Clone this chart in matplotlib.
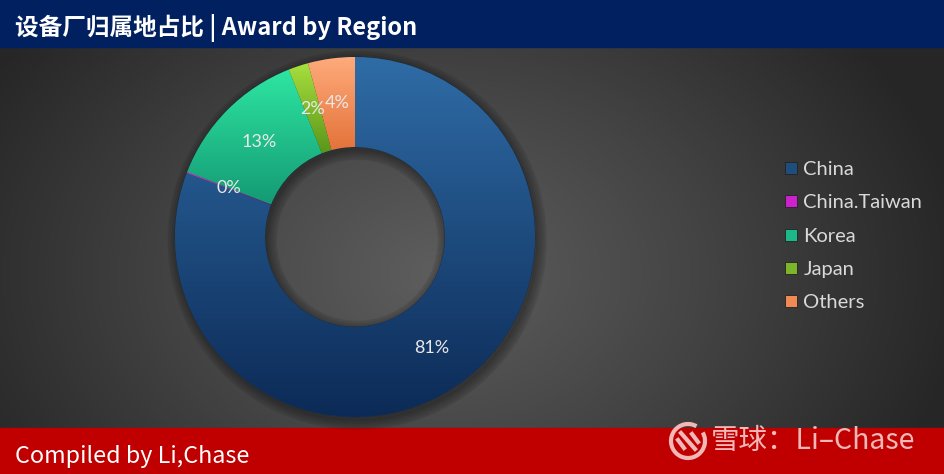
import matplotlib
matplotlib.use('Agg')
import matplotlib.pyplot as plt
import numpy as np
from matplotlib.colors import LinearSegmentedColormap
from matplotlib.lines import Line2D
from matplotlib.patches import Rectangle, Arc, Wedge

regions = ["China", "China.Taiwan", "Korea", "Japan", "Others"]
shares = [80.8, 0.1, 13.1, 1.8, 4.2]
top_colors = ["#2f6ca6", "#e040e0", "#2ee6a2", "#a8e03e", "#ffab7c"]
bottom_colors = ["#0c2a56", "#8a108a", "#149a74", "#5a961a", "#e4733a"]
legend_colors = ["#1f4e7d", "#cc22cc", "#1db88a", "#7cb52c", "#f08a55"]

title = "设备厂归属地占比 | Award by Region"
footer = "Compiled by Li,Chase"
mark = "雪球：Li–Chase"

W, H = 945, 474
fig = plt.figure(figsize=(W / 100, H / 100), dpi=100)
fig.patch.set_facecolor("#333333")

# background: radial grey gradient
bg = fig.add_axes([0, 0, 1, 1])
bg.set_xlim(0, W)
bg.set_ylim(0, H)
bg.axis('off')
yy, xx = np.mgrid[0:H, 0:W]
d = np.sqrt(((xx - 440) / 520.0) ** 2 + ((yy - 200) / 380.0) ** 2)
d = np.clip(d, 0, 1)
grey = LinearSegmentedColormap.from_list("g", ["#5e5e5e", "#444444", "#272727"])
bg.imshow(d, cmap=grey, extent=(0, W, 0, H), origin='lower', aspect='auto', zorder=0)

# header and footer bars
bg.add_patch(Rectangle((0, H - 47), W, 47, color="#012060", zorder=1))
bg.add_patch(Rectangle((0, 0), W, 46, color="#c00000", zorder=1))
bg.text(15, H - 28, title, color="white", fontsize=17, fontweight='bold',
        family=['Noto Sans CJK SC', 'DejaVu Sans'], va='center', ha='left', zorder=2)
bg.text(15, 17, footer, color="white", fontsize=16.8,
        family=['Noto Sans CJK SC', 'DejaVu Sans'], va='center', ha='left', zorder=2)

# watermark
wm = "#f2b8b8"
bg.text(711, 33, mark, color=wm, fontsize=20.5,
        family=['Noto Sans CJK SC', 'DejaVu Sans'], va='center', ha='left', zorder=3)
bg.add_patch(Arc((688, 33), 34, 34, theta1=60, theta2=390, color=wm, lw=3, zorder=3))
bg.plot([681, 695], [41, 25], color=wm, lw=3, zorder=3)
bg.plot([678, 684], [34, 26], color=wm, lw=3, zorder=3)
bg.plot([692, 698], [40, 32], color=wm, lw=3, zorder=3)

# donut: center (355, 237) px, radius 180 px
lim = 1.08
size = 360 * lim
ax = fig.add_axes([(355 - size / 2) / W, (H - 237 - size / 2) / H, size / W, size / H])
ax.set_aspect('equal')
ax.axis('off')
ax.patch.set_alpha(0)

# soft shadow
for k in range(6):
    ax.add_patch(Wedge((0.012, -0.018), 1.0 + 0.01 * k, 0, 360,
                       width=0.5 + 0.02 * k, color="black", alpha=0.06, zorder=0))

wedges, texts, autotexts = ax.pie(
    shares, startangle=90, counterclock=False, radius=1.0,
    autopct=lambda p: f"{p:.0f}%", pctdistance=0.75,
    wedgeprops=dict(width=0.5, edgecolor="#1c2a3a", linewidth=0.6),
    textprops=dict(color="#e8e8e8", fontsize=13, family=['Lato', 'DejaVu Sans']))

grad = np.linspace(0, 1, 256).reshape(-1, 1)
for w, c1, c2 in zip(wedges, top_colors, bottom_colors):
    w.set_facecolor(c1)
    bb = w.get_path().get_extents()
    cm = LinearSegmentedColormap.from_list("w", [c2, c1])
    im = ax.imshow(grad, cmap=cm, origin='lower', aspect='auto',
                   extent=(bb.x0, bb.x1, bb.y0, bb.y1), zorder=1.5)
    im.set_clip_path(w)
    w.set_zorder(1)
ax.set_xlim(-lim, lim)
ax.set_ylim(-lim, lim)
for t in autotexts:
    t.set_zorder(5)

# legend
handles = [Line2D([], [], marker='s', linestyle='none', markersize=8,
                  markerfacecolor=c, markeredgecolor="#222222", markeredgewidth=0.6)
           for c in legend_colors]
leg = fig.legend(handles, regions, loc='center left', bbox_to_anchor=(763 / W, 1 - 236 / H),
                 frameon=False, labelspacing=0.8, handletextpad=0.1,
                 handlelength=1.0, prop=dict(family=['Lato', 'DejaVu Sans'], size=14.5))
for t in leg.get_texts():
    t.set_color("#d9d9d9")

plt.savefig("out.png", dpi=100)
plt.close()
